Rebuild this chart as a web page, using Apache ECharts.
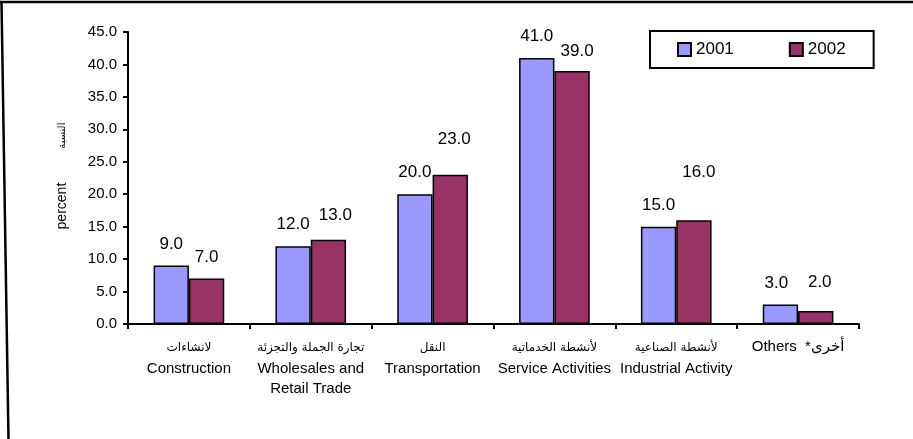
<!DOCTYPE html>
<html>
<head>
<meta charset="utf-8">
<script src="https://cdn.jsdelivr.net/npm/echarts@6/dist/echarts.min.js"></script>
<style>
html,body{margin:0;padding:0;background:#fff;}
#chart{width:913px;height:439px;}
</style>
</head>
<body>
<div id="chart"></div>
<script>
// ---- data ----
var categoriesAr = ['لانشاءات', 'تجارة الجملة والتجزئة', 'النقل', 'لأنشطة الخدماتية', 'لأنشطة الصناعية', ''];
var categoriesEn = ['Construction', 'Wholesales and\nRetail Trade', 'Transportation', 'Service Activities', 'Industrial Activity', 'Others  *أخرى'];
var seriesNames = ['2001', '2002'];
var values2001 = [9.0, 12.0, 20.0, 41.0, 15.0, 3.0];
var values2002 = [7.0, 13.0, 23.0, 39.0, 16.0, 2.0];
var yTicks = [0, 5, 10, 15, 20, 25, 30, 35, 40, 45];
var yNameEn = 'percent';
var yNameAr = 'النسبة';

// ---- style-only label nudges (dx, dy) ----
var nudge2001 = [[0,0],[0,0],[0,0],[0,0],[0,0],[-4,0]];
var nudge2002 = [[0,0],[7,-3],[4,-14],[5,2],[5,-26],[4,-7]];

var FONT = "'Liberation Sans', Arial, 'DejaVu Sans', sans-serif";

function buildData(vals, nudges) {
  return vals.map(function (v, i) {
    return { value: v, label: { offset: nudges[i] } };
  });
}

var categories = categoriesEn.map(function (en, i) { return String(i); });

var chart = echarts.init(document.getElementById('chart'), null, { renderer: 'canvas' });

var barStyleCommon = { borderColor: '#000', borderWidth: 1.5 };

chart.setOption({
  backgroundColor: '#fff',
  animation: false,
  textStyle: { fontFamily: FONT, color: '#000' },
  graphic: [
    { type: 'polyline', shape: { points: [[0, 2], [913, 2]] }, style: { stroke: '#000', lineWidth: 2.5, fill: null } },
    { type: 'polyline', shape: { points: [[1.5, 2], [8.5, 439]] }, style: { stroke: '#000', lineWidth: 2.5, fill: null } }
  ],
  grid: { left: 128, top: 32, right: 54, bottom: 115, containLabel: false },
  legend: {
    data: seriesNames,
    left: 650, top: 31,
    orient: 'horizontal',
    borderColor: '#000', borderWidth: 2, borderRadius: 0,
    padding: [10, 28, 10, 27],
    itemGap: 55, itemWidth: 13, itemHeight: 13,
    icon: 'rect',
    textStyle: { fontSize: 17, color: '#000', fontFamily: FONT }
  },
  xAxis: {
    type: 'category',
    data: categories,
    axisLine: { lineStyle: { color: '#000', width: 2 } },
    axisTick: { show: true, length: 5, lineStyle: { color: '#000', width: 2 } },
    axisLabel: {
      interval: 0,
      margin: 13,
      formatter: function (val) {
        var i = +val;
        var ar = categoriesAr[i];
        var en = categoriesEn[i];
        var lines = [];
        if (ar) lines.push('{ar|' + ar + '}');
        en.split('\n').forEach(function (l) { lines.push('{en|' + l + '}'); });
        return lines.join('\n');
      },
      rich: {
        ar: { fontSize: 12, lineHeight: 22, fontFamily: "'DejaVu Sans', sans-serif", color: '#000' },
        en: { fontSize: 15, lineHeight: 20, fontFamily: FONT, color: '#000' }
      }
    }
  },
  yAxis: {
    type: 'value',
    min: yTicks[0], max: yTicks[yTicks.length - 1], interval: yTicks[1] - yTicks[0],
    name: '{en|' + yNameEn + '}{gap|}{ar|' + yNameAr + '}',
    nameLocation: 'middle',
    nameRotate: 90,
    nameGap: 59,
    nameTextStyle: {
      fontSize: 14, color: '#000', fontFamily: FONT,
      padding: [0, 0, 0, 4],
      rich: {
        en: { fontSize: 14, fontFamily: FONT, color: '#000' },
        gap: { width: 34 },
        ar: { fontSize: 10, fontFamily: "'DejaVu Sans', sans-serif", color: '#000' }
      }
    },
    axisLine: { show: true, lineStyle: { color: '#000', width: 2 } },
    axisTick: { show: true, length: 5, lineStyle: { color: '#000', width: 2 } },
    splitLine: { show: false },
    axisLabel: {
      margin: 11, fontSize: 15, color: '#000', fontFamily: FONT,
      formatter: function (v) { return v.toFixed(1); }
    }
  },
  series: [
    {
      name: seriesNames[0], type: 'bar',
      data: buildData(values2001, nudge2001),
      barGap: '0%', barCategoryGap: '42%',
      itemStyle: Object.assign({ color: '#9999FF' }, barStyleCommon),
      label: { show: true, position: 'top', distance: 13, fontSize: 17, color: '#000', fontFamily: FONT,
        formatter: function (p) { return (+p.value).toFixed(1); } }
    },
    {
      name: seriesNames[1], type: 'bar',
      data: buildData(values2002, nudge2002),
      barGap: '0%', barCategoryGap: '42%',
      itemStyle: Object.assign({ color: '#993366' }, barStyleCommon),
      label: { show: true, position: 'top', distance: 13, fontSize: 17, color: '#000', fontFamily: FONT,
        formatter: function (p) { return (+p.value).toFixed(1); } }
    }
  ]
});
</script>
</body>
</html>
